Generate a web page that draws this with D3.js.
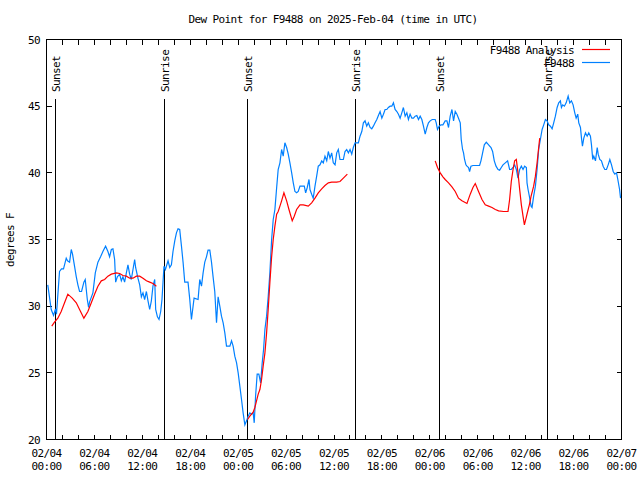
<!DOCTYPE html>
<html><head><meta charset="utf-8">
<script src="https://cdn.jsdelivr.net/npm/d3@7"></script>
<style>
body{margin:0;background:#fff}
text{font-family:"DejaVu Sans Mono",monospace;font-size:11px;letter-spacing:-0.6px;fill:#000}
</style>
</head><body><svg id="c" width="640" height="480"></svg>
<script>
// ---- data (hours since 2025-02-04 00:00 UTC, dew point degF) ----
const titleText = "Dew Point for F9488 on 2025-Feb-04 (time in UTC)";
const yLabelText = "degrees F";
const seriesNames = ["F9488 Analysis", "F9488"];
const seriesColors = ["#ff0000", "#0080ff"];

const obsHours = [0.16,0.59,0.75,0.88,1.13,1.25,1.38,1.63,1.88,2.13,2.47,2.63,2.89,3.10,3.26,3.51,3.73,3.93,4.14,4.39,4.68,4.85,5.11,5.27,5.39,5.81,6.11,6.44,6.77,7.06,7.40,7.69,7.90,8.12,8.32,8.53,8.66,8.87,9.16,9.37,9.57,9.78,10.00,10.20,10.41,10.62,10.83,11.04,11.16,11.45,11.67,11.88,12.08,12.29,12.51,12.71,12.92,13.13,13.33,13.55,13.67,13.89,14.09,14.30,14.46,14.59,14.71,14.89,15.22,15.43,15.64,15.84,16.06,16.27,16.47,16.68,16.90,17.10,17.31,17.72,17.94,18.15,18.48,18.98,19.19,19.41,19.61,19.82,20.03,20.23,20.45,20.66,20.86,21.07,21.29,21.49,21.70,21.91,22.12,22.33,22.54,22.96,23.17,23.37,23.58,23.80,24.00,24.21,24.42,24.62,24.84,25.05,25.25,25.46,25.68,25.88,26.01,26.18,26.38,26.59,26.81,27.01,27.18,27.35,27.56,27.76,27.97,28.19,28.39,28.60,28.82,29.01,29.23,29.44,29.64,29.85,30.07,30.27,30.48,30.70,30.90,31.11,31.32,31.52,31.74,32.28,32.45,32.65,32.87,32.99,33.20,33.40,33.62,33.83,34.03,34.25,34.46,34.66,34.87,35.09,35.29,35.50,35.71,35.91,36.13,36.34,36.54,36.75,37.17,37.38,37.59,37.80,38.01,38.22,38.42,38.64,39.05,39.26,39.48,39.68,39.89,40.10,40.30,40.52,40.73,40.93,41.14,41.36,41.56,41.77,41.99,42.19,42.40,42.61,42.81,43.03,43.24,43.44,43.65,43.87,44.07,44.28,44.49,44.69,44.91,45.12,45.32,45.53,45.75,45.95,46.16,46.37,46.58,46.79,47.00,47.20,47.42,47.63,47.83,48.04,48.30,48.67,48.80,48.96,49.17,49.39,49.64,49.92,50.14,50.34,50.55,50.77,50.97,51.18,51.39,51.59,51.81,51.93,52.10,52.22,52.35,52.52,52.65,52.85,52.98,53.15,53.40,54.23,54.40,54.61,54.82,55.07,55.36,55.66,55.86,56.07,56.29,56.54,56.74,56.95,57.16,57.45,57.74,57.99,58.20,58.42,58.62,58.83,59.04,59.25,59.46,59.67,59.87,60.09,60.17,60.30,60.46,60.68,60.80,61.00,61.22,61.43,61.63,61.84,62.06,62.26,62.47,62.68,62.88,63.10,63.31,63.51,63.72,63.94,64.14,64.35,64.48,64.64,64.85,65.07,65.32,65.52,65.73,65.94,66.15,66.32,66.52,66.65,66.86,66.99,67.11,67.28,67.49,67.70,67.90,68.11,68.24,68.40,68.53,68.74,68.96,69.08,69.28,69.49,69.70,69.91,70.12,70.33,70.54,70.75,70.96,71.16,71.38,71.54,71.76,71.88];
const obsDew = [31.6,29.75,29.5,29.3,29.8,29.4,30.5,32.6,32.8,32.8,33.6,33.4,33.3,34.25,33.9,33.0,32.2,31.6,31.1,31.1,31.8,32.0,30.5,29.9,30.3,31.0,32.5,33.3,33.7,34.1,34.5,34.1,33.7,34.25,34.3,33.5,31.8,32.2,32.4,31.9,32.2,31.8,32.5,33.1,32.4,32.0,32.75,33.5,32.9,32.1,31.6,30.7,31.0,30.5,31.1,30.4,29.75,30.4,31.5,32.0,29.75,29.2,29.0,29.6,30.5,31.8,33.0,32.75,33.4,32.9,33.1,34.1,34.9,35.5,35.8,35.75,34.5,33.3,31.8,31.8,30.5,29.0,30.6,30.5,32.0,31.5,32.5,33.3,33.7,34.2,34.2,33.3,32.2,31.1,28.75,30.7,30.0,29.25,28.75,28.0,27.0,27.0,27.4,27.0,26.25,25.75,25.0,24.0,23.0,22.0,21.1,21.4,21.75,22.0,21.9,22.0,21.25,23.25,24.9,24.9,24.25,25.75,26.75,28.25,29.25,30.7,32.5,35.0,36.5,37.25,38.9,40.25,40.75,41.75,41.25,42.25,41.9,41.4,40.75,40.0,39.25,38.6,38.5,38.6,39.0,39.0,38.5,38.9,39.5,38.75,38.4,38.1,39.0,39.75,40.5,40.6,40.9,40.75,41.25,40.9,41.6,41.1,41.5,40.75,40.6,41.5,41.75,41.0,41.0,41.6,41.75,41.5,41.75,41.4,41.9,42.25,42.25,42.75,43.1,43.75,43.9,43.5,43.75,43.4,43.3,43.5,43.75,44.0,44.3,44.6,44.1,44.4,44.75,44.75,44.9,45.0,45.0,45.25,44.75,44.6,44.4,44.1,44.5,44.9,44.25,44.5,44.0,44.4,44.1,44.1,44.25,44.3,44.0,44.25,44.0,43.5,42.9,43.4,43.75,43.9,44.0,44.0,43.75,43.25,43.5,43.6,43.6,43.9,43.9,43.4,44.25,44.75,43.9,44.6,44.4,44.1,43.75,42.5,41.75,41.5,41.0,40.6,40.5,40.4,40.1,40.5,40.55,40.55,40.9,41.5,42.1,42.3,42.1,41.9,41.6,40.9,40.5,40.25,40.2,40.4,40.6,40.75,40.9,40.25,40.25,40.4,40.6,40.25,39.6,40.25,40.5,40.25,40.5,40.4,39.25,38.75,38.25,37.5,37.4,38.25,39.0,40.25,41.75,42.5,43.25,43.6,44.0,43.9,43.6,43.5,43.3,43.75,44.25,44.9,45.25,45.4,44.9,45.1,45.0,45.25,45.75,45.25,45.4,45.1,44.5,44.1,44.4,43.75,43.4,42.6,42.0,42.6,43.0,42.75,43.0,42.75,42.1,41.0,41.25,40.9,41.9,41.4,41.0,40.9,40.5,40.25,40.25,40.6,41.0,40.6,40.1,39.9,40.0,39.5,38.75,38.1];

// analysis series: null marks a gap
const anaHours = [0.66,1.0,1.42,1.84,2.26,2.67,3.22,3.73,4.14,4.68,5.18,5.61,6.02,6.44,6.86,7.28,7.69,8.12,8.74,9.16,9.57,10.0,10.41,10.83,11.25,11.67,12.08,12.51,12.92,13.33,13.76,
  20.0,
  25.18,25.46,25.88,26.09,26.30,26.51,26.72,26.93,27.13,27.35,27.56,27.76,27.97,28.19,28.39,28.60,28.82,29.01,29.23,29.44,29.73,30.07,30.36,30.77,31.02,31.32,31.74,32.15,32.78,33.20,33.62,34.03,34.46,34.87,35.29,35.71,36.34,36.75,37.17,37.67,
  43.0,
  48.67,48.96,49.30,49.64,49.92,50.34,50.77,51.18,51.59,52.02,52.65,53.06,53.40,53.69,54.10,54.53,54.94,55.36,55.78,56.20,56.61,57.24,57.79,57.99,58.20,58.42,58.62,58.83,59.04,59.25,59.46,59.67,59.84,60.05,60.25,60.46,60.68,61.00,61.22,61.43,61.63,61.76];
const anaDew = [28.5,28.8,29.1,29.6,30.25,30.9,30.6,30.25,29.75,29.1,29.6,30.25,30.9,31.5,31.9,32.0,32.25,32.4,32.5,32.45,32.3,32.25,32.1,32.1,32.25,32.25,32.1,31.9,31.8,31.7,31.5,
  null,
  21.5,21.75,22.05,22.4,22.9,23.4,23.75,24.5,25.5,26.5,28.0,29.75,31.75,33.7,35.0,36.0,36.9,37.1,37.5,37.9,38.5,37.9,37.25,36.4,36.75,37.25,37.6,37.6,37.5,37.75,38.1,38.5,38.8,39.05,39.25,39.3,39.3,39.35,39.6,39.9,
  null,
  40.9,40.4,40.0,39.7,39.5,39.25,38.95,38.6,38.1,37.9,37.7,38.4,38.9,39.2,38.6,38.0,37.6,37.5,37.4,37.25,37.15,37.1,37.1,38.0,39.35,40.25,40.9,41.0,40.0,38.75,37.6,36.75,36.1,36.6,37.1,37.6,38.25,39.0,39.75,40.75,41.9,42.6];

const sunHours = [1.04, 14.71, 25.13, 38.67, 49.21, 62.68];
const sunLabels = ["Sunset","Sunrise","Sunset","Sunrise","Sunset","Sunrise"];

const xTickHours = [0,6,12,18,24,30,36,42,48,54,60,66,72];
const xTickDates = ["02/04","02/04","02/04","02/04","02/05","02/05","02/05","02/05","02/06","02/06","02/06","02/06","02/07"];
const xTickTimes = ["00:00","06:00","12:00","18:00","00:00","06:00","12:00","18:00","00:00","06:00","12:00","18:00","00:00"];
const yTicks = [20,25,30,35,40,45,50];

// ---- drawing ----
const svg = d3.select("#c");
const L = 46.5, R = 621.5, T = 39.5, B = 439.5;
const x = d3.scaleLinear().domain([0,72]).range([L,R]);
const y = d3.scaleLinear().domain([20,50]).range([B,T]);

svg.append("rect").attr("width",640).attr("height",480).attr("fill","#fff");

// title
svg.append("text").attr("x",333).attr("y",23).attr("text-anchor","middle").text(titleText);
// y label
svg.append("text").attr("transform","translate(14,240) rotate(-90)").attr("text-anchor","middle").text(yLabelText);

// ticks (2-hourly on x, inward on all sides)
const g = svg.append("g").attr("stroke","#000").attr("stroke-width",1).attr("shape-rendering","crispEdges");
d3.range(0,73,2).forEach(h=>{
  const px = Math.round(x(h)-0.5)+0.5;
  g.append("line").attr("x1",px).attr("x2",px).attr("y1",B).attr("y2",B-5);
  g.append("line").attr("x1",px).attr("x2",px).attr("y1",T).attr("y2",T+5);
});
yTicks.forEach(v=>{
  const py = Math.round(y(v)-0.5)+0.5;
  g.append("line").attr("x1",L).attr("x2",L+5).attr("y1",py).attr("y2",py);
  g.append("line").attr("x1",R).attr("x2",R-5).attr("y1",py).attr("y2",py);
});

// tick labels
yTicks.forEach(v=>{
  svg.append("text").attr("x",40).attr("y",y(v)+4).attr("text-anchor","end").text(v);
});
xTickHours.forEach((h,i)=>{
  svg.append("text").attr("x",x(h)).attr("y",457).attr("text-anchor","middle").text(xTickDates[i]);
  svg.append("text").attr("x",x(h)).attr("y",470).attr("text-anchor","middle").text(xTickTimes[i]);
});

// sun lines
sunHours.forEach((h,i)=>{
  const px = Math.round(x(h))+0.5;
  g.append("line").attr("x1",px).attr("x2",px).attr("y1",99).attr("y2",B);
  svg.append("text").attr("transform",`translate(${px+4.5},92) rotate(-90)`).attr("text-anchor","start").text(sunLabels[i]);
});

// series lines
const obsData = obsHours.map((h,i)=>[h,obsDew[i]]);
const anaData = anaHours.map((h,i)=>[h,anaDew[i]]);
const line = d3.line().defined(d=>d[1]!==null).x(d=>x(d[0])).y(d=>y(d[1]));
svg.append("path").datum(obsData).attr("d",line).attr("fill","none").attr("stroke",seriesColors[1]).attr("stroke-width",1.2);
svg.append("path").datum(anaData).attr("d",line).attr("fill","none").attr("stroke",seriesColors[0]).attr("stroke-width",1.2);

// frame
g.append("rect").attr("x",L).attr("y",T).attr("width",R-L).attr("height",B-T).attr("fill","none");

// legend
const lg = svg.append("g");
seriesNames.forEach((n,i)=>{
  const ly = 50 + i*13;
  lg.append("text").attr("x",574).attr("y",ly+4).attr("text-anchor","end").text(n);
  lg.append("line").attr("x1",582).attr("x2",610).attr("y1",ly-0.5).attr("y2",ly-0.5).attr("stroke",seriesColors[i]).attr("stroke-width",1.2);
});
</script>
</body></html>
